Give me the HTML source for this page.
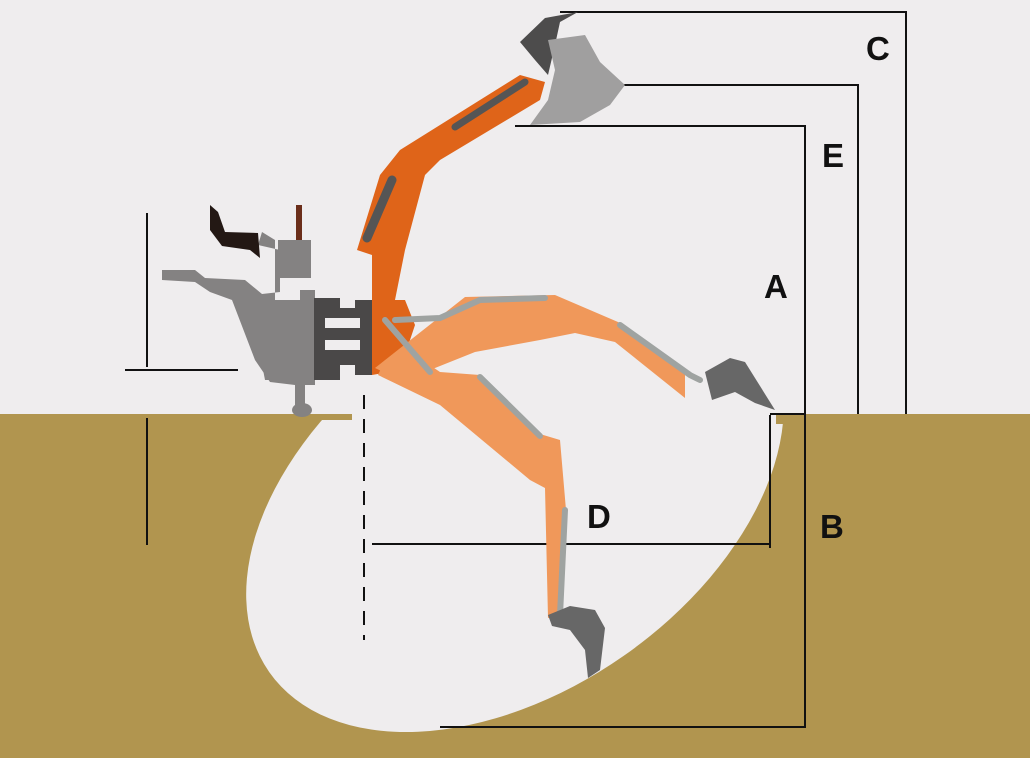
<!DOCTYPE html>
<html><head><style>
html,body{margin:0;padding:0;background:#efedee;overflow:hidden;}
svg{display:block;}
text{font-family:"Liberation Sans",Arial,sans-serif;font-weight:bold;font-size:33px;fill:#111;}
</style></head><body>
<svg width="1030" height="758" viewBox="0 0 1030 758">
<defs><clipPath id="cp"><rect x="0" y="0" width="1030" height="758"/></clipPath></defs>
<rect width="1030" height="758" fill="#efedee"/>
<rect x="0" y="414" width="1030" height="344" fill="#b1954f"/>
<g clip-path="url(#cp)">
<ellipse cx="515" cy="500" rx="300" ry="190" transform="rotate(-35 515 500)" fill="#efedee"/>
</g>
<rect x="0" y="400" width="352" height="14" fill="#efedee"/>
<rect x="0" y="414" width="352" height="6" fill="#b1954f"/>
<rect x="776" y="414" width="254" height="10" fill="#b1954f"/>
<g stroke="#111" stroke-width="2" fill="none">
<polyline points="560,12 906,12 906,414"/>
<polyline points="620,85 858,85 858,414"/>
<polyline points="515,126 805,126 805,727 440,727"/>
<polyline points="770,415 770,548"/>
<line x1="770" y1="414" x2="805" y2="414"/>
<line x1="372" y1="544" x2="770" y2="544"/>
<line x1="147" y1="213" x2="147" y2="367"/>
<line x1="125" y1="370" x2="238" y2="370"/>
<line x1="147" y1="418" x2="147" y2="545"/>
<line x1="364" y1="395" x2="364" y2="640" stroke-dasharray="14,10"/>
</g>
<g fill="#848282">
<path d="M162,270 L195,270 L205,278 L245,280 L262,294 L280,292 L280,250 L258,245 L262,232 L275,240 L275,300 L300,300 L300,290 L315,290 L315,385 L305,385 L305,405 L295,405 L295,385 L270,382 L255,360 L232,300 L210,292 L195,282 L162,280 Z"/>
<rect x="278" y="240" width="33" height="38"/>
<path d="M255,328 L290,318 L290,380 L265,380 Z"/>
<ellipse cx="302" cy="410" rx="10" ry="7"/>
</g>
<path d="M210,205 L218,212 L225,232 L258,233 L260,258 L250,250 L222,246 L210,230 Z" fill="#231814"/>
<rect x="296" y="205" width="6" height="35" fill="#6b2e1a"/>
<path d="M314,298 L340,298 L340,308 L355,308 L355,300 L372,300 L372,375 L355,375 L355,365 L340,365 L340,380 L314,380 Z" fill="#4a4848"/>
<rect x="325" y="318" width="35" height="10" fill="#efedee"/>
<rect x="325" y="340" width="35" height="10" fill="#efedee"/>
<path d="M357,250 L380,175 L400,150 L520,75 L545,82 L540,100 L440,160 L425,175 L405,250 L395,300 L372,300 L372,255 Z" fill="#df6419"/>
<path d="M372,300 L405,300 L415,325 L400,370 L372,375 Z" fill="#df6419"/>
<line x1="367" y1="238" x2="392" y2="180" stroke="#555" stroke-width="9" stroke-linecap="round"/>
<line x1="455" y1="127" x2="525" y2="82" stroke="#555" stroke-width="7" stroke-linecap="round"/>
<path d="M520,42 L545,18 L578,12 L560,22 L555,45 L548,75 L535,60 Z" fill="#4d4c4c"/>
<path d="M548,40 L585,35 L600,62 L625,85 L610,105 L580,122 L530,125 L548,100 L555,70 Z" fill="#a09f9f"/>
<g fill="#f0985a">
<path d="M375,368 L465,297 L555,295 L590,310 L618,322 L685,368 L685,398 L615,342 L575,333 L540,340 L475,352 L435,368 L400,380 Z"/>
<path d="M378,375 L440,405 L530,480 L545,488 L548,618 L562,615 L566,510 L560,440 L540,434 L480,375 L440,372 L415,355 L385,360 Z"/>
</g>
<g stroke="#9fa3a1" stroke-width="6" fill="none" stroke-linecap="round">
<polyline points="395,320 440,318 480,300 545,298"/>
<polyline points="385,320 430,372"/>
<polyline points="480,377 540,436"/>
<polyline points="620,325 690,375 700,380"/>
<polyline points="565,510 560,615"/>
</g>
<path d="M705,372 L730,358 L745,362 L775,410 L755,403 L735,392 L712,400 Z" fill="#676767"/>
<path d="M548,615 L570,606 L595,610 L605,628 L600,670 L588,678 L585,650 L570,630 L552,626 Z" fill="#676767"/>
<text x="866" y="60">C</text>
<text x="822" y="167">E</text>
<text x="764" y="298">A</text>
<text x="820" y="538">B</text>
<text x="587" y="528">D</text>
</svg>
</body></html>
